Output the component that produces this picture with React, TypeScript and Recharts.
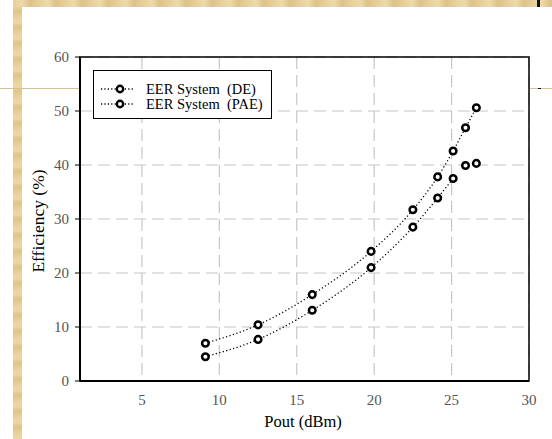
import { CartesianGrid, ComposedChart, Legend, Line, ReferenceArea, XAxis, YAxis } from "recharts";

const pout = [9.1, 12.5, 16, 19.8, 22.5, 24.1, 25.1, 25.9, 26.6];
const deEfficiency = [7, 10.4, 16, 24, 31.7, 37.8, 42.6, 46.9, 50.6];
const paeEfficiency = [4.5, 7.7, 13.1, 21, 28.5, 33.9, 37.5, 39.9, 40.3];
const paeTrendPoints = 7;
const xTicks = [5, 10, 15, 20, 25, 30];
const yTicks = [0, 10, 20, 30, 40, 50, 60];
const seriesNames = ["EER System  (DE)", "EER System  (PAE)"];

const deData = pout.map((x, i) => ({ x, y: deEfficiency[i] }));
const paeData = pout.map((x, i) => ({ x, y: paeEfficiency[i] }));
const paeTrend = paeData.slice(0, paeTrendPoints);

const font = '"Liberation Serif", "DejaVu Serif", serif';
const tan = "#e7cf98";

const marker = (props: any) => {
  const { cx, cy, index } = props;
  return <circle key={index} cx={cx} cy={cy} r={3.3} fill="#fff" stroke="#000" strokeWidth={2.5} />;
};

function LegendBox() {
  return (
    <div style={{ width: 179, height: 49, border: "1px solid #000", background: "#fff", boxSizing: "border-box", paddingTop: 11, fontFamily: font, fontSize: 14.5, color: "#000" }}>
      {seriesNames.map((name) => (
        <div key={name} style={{ display: "flex", alignItems: "center", height: 14.5 }}>
          <svg width={52} height={12} style={{ flex: "none" }}>
            <line x1={7} y1={6} x2={39} y2={6} stroke="#000" strokeWidth={1.3} strokeDasharray="1.2 2.2" />
            <circle cx={26} cy={6} r={3.2} fill="#fff" stroke="#000" strokeWidth={2.4} />
          </svg>
          <span style={{ whiteSpace: "pre", lineHeight: "14px" }}>{name}</span>
        </div>
      ))}
    </div>
  );
}

export default function App() {
  return (
    <div style={{ position: "absolute", left: 0, top: 0, width: 552, height: 439, background: "#fff", overflow: "hidden" }}>
      <div style={{ position: "absolute", left: 13, top: 0, width: 9, height: 439, background: `repeating-linear-gradient(180deg, ${tan} 0px, #ecd7a6 6px, #dfc48a 11px, ${tan} 16px)` }} />
      <div style={{ position: "absolute", left: 13, top: 0, width: 539, height: 7, background: `repeating-linear-gradient(90deg, ${tan} 0px, #eedaa8 9px, #dcc288 17px, ${tan} 26px)` }} />
      <div style={{ position: "absolute", left: 537, top: 0, width: 3, height: 7, background: "#111" }} />
      <div style={{ position: "absolute", left: 0, top: 88, width: 80, height: 1, background: "#d9c08a" }} />
      <div style={{ position: "absolute", left: 530, top: 88, width: 22, height: 1, background: "#d9c08a" }} />
      <div style={{ position: "absolute", left: 538, top: 88, width: 3, height: 1, background: "#111" }} />
      <div style={{ position: "absolute", left: 0, top: 0 }}>
        <ComposedChart width={552} height={439} margin={{ top: 57, right: 23, bottom: 28, left: 60 }}>
          <CartesianGrid stroke="#c6c6c6" strokeDasharray="12 6" strokeWidth={1.2} />
          <XAxis
            type="number"
            dataKey="x"
            domain={[1, 30]}
            ticks={xTicks}
            allowDataOverflow
            height={30}
            tickSize={0}
            tickMargin={13}
            tickLine={false}
            axisLine={{ stroke: "#000", strokeWidth: 2 }}
            tick={{ fill: "#555", fontSize: 15, fontFamily: font }}
          />
          <YAxis
            type="number"
            dataKey="y"
            domain={[0, 60]}
            ticks={yTicks}
            width={20}
            tickSize={5}
            tickMargin={6}
            tickLine={{ stroke: "#000", strokeWidth: 1 }}
            axisLine={{ stroke: "#000", strokeWidth: 2 }}
            tick={{ fill: "#555", fontSize: 15, fontFamily: font }}
          />
          <ReferenceArea x1={1} x2={30} y1={0} y2={60} fill="none" stroke="#000" strokeWidth={1.5} />
          <Line data={deData} dataKey="y" type="monotone" stroke="#000" strokeWidth={1.3} strokeDasharray="1.2 2.4" dot={marker} activeDot={false} isAnimationActive={false} />
          <Line data={paeTrend} dataKey="y" type="monotone" stroke="#000" strokeWidth={1.3} strokeDasharray="1.2 2.4" dot={false} activeDot={false} isAnimationActive={false} />
          <Line data={paeData} dataKey="y" stroke="none" dot={marker} activeDot={false} isAnimationActive={false} />
          <Legend layout="horizontal" verticalAlign="middle" align="center" content={() => <LegendBox />} wrapperStyle={{ left: 93, top: 70, width: 179 }} />
        </ComposedChart>
      </div>
      <div style={{ position: "absolute", left: 0, top: 412, width: 606, textAlign: "center", fontFamily: font, fontSize: 16.5, color: "#000", lineHeight: "20px" }}>Pout (dBm)</div>
      <div style={{ position: "absolute", left: 38, top: 221, transform: "translate(-50%, -50%) rotate(-90deg)", fontFamily: font, fontSize: 17.5, color: "#000", whiteSpace: "nowrap", lineHeight: "20px" }}>Efficiency (%)</div>
    </div>
  );
}
